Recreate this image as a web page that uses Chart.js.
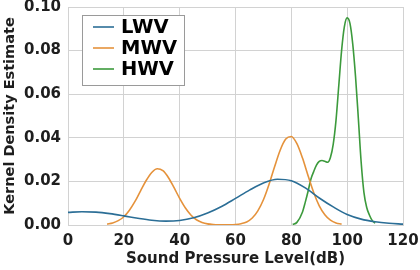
<!DOCTYPE html>
<html>
<head>
<meta charset="utf-8">
<script src="https://cdn.jsdelivr.net/npm/chart.js@4/dist/chart.umd.min.js"></script>
<style>
  html, body { margin: 0; padding: 0; background: #fff; }
  #wrap { width: 420px; height: 270px; }
</style>
</head>
<body>
<div id="wrap"><canvas id="kde"></canvas></div>
<script>
// series names
const seriesNames = ['LWV', 'MWV', 'HWV'];

// sound level (dB) sample positions and density estimates
const lwvX = [0, 5, 10, 15, 20, 25, 30, 35, 40, 45, 50, 55, 60, 65, 70, 75, 80, 85, 90, 95, 100, 105, 110, 115, 120];
const lwvY = [0.0058, 0.0061, 0.0059, 0.0052, 0.0042, 0.0031, 0.0022, 0.0018, 0.0021, 0.0033, 0.0055, 0.0085, 0.0122, 0.0160, 0.0193, 0.0210, 0.0203, 0.0170, 0.0124, 0.0083, 0.0048, 0.0027, 0.0015, 0.0008, 0.0004];

const mwvX = [14, 16, 18, 20, 22, 24, 26, 28, 30, 32, 34, 36, 38, 40, 42, 44, 46, 48, 50, 52, 54, 56, 58, 60, 62, 64, 66, 68, 70, 72, 74, 76, 78, 80, 82, 84, 86, 88, 90, 92, 94, 96, 98];
const mwvY = [0.0004, 0.0009, 0.0020, 0.0038, 0.0068, 0.0108, 0.0157, 0.0204, 0.0241, 0.0258, 0.0249, 0.0217, 0.0171, 0.0122, 0.0079, 0.0046, 0.0024, 0.0012, 0.0005, 0.0002, 0.0001, 0.0001, 0.0001, 0.0002, 0.0006, 0.0014, 0.0032, 0.0065, 0.0116, 0.0186, 0.0267, 0.0343, 0.0394, 0.0406, 0.0373, 0.0307, 0.0226, 0.0149, 0.0088, 0.0047, 0.0022, 0.0009, 0.0004];

const hwvX = [80.5, 82, 84, 85, 86, 87, 88, 89, 90, 91, 92, 93, 94, 95, 96, 97, 98, 99, 100, 101, 102, 103, 104, 105, 106, 107, 108, 109, 110];
const hwvY = [0.0002, 0.0012, 0.0060, 0.0105, 0.0155, 0.0210, 0.0245, 0.0275, 0.0292, 0.0296, 0.0292, 0.0288, 0.0310, 0.0370, 0.0480, 0.0640, 0.0800, 0.0910, 0.0950, 0.0925, 0.0830, 0.0680, 0.0490, 0.0290, 0.0150, 0.0080, 0.0045, 0.0020, 0.0008];

// axis ticks
const xTicks = [0, 20, 40, 60, 80, 100, 120];
const yTicks = [0, 0.02, 0.04, 0.06, 0.08, 0.10];

const colors = ['#2b6e96', '#e5923b', '#3c9a3c'];
const txt = '#1e1e1e';
const gridCol = '#d2d2d2';
const FONT = "'DejaVu Sans', sans-serif";

function pts(xs, ys) {
  return xs.map((x, i) => ({ x: x, y: ys[i] }));
}

const lineSets = [[lwvX, lwvY], [mwvX, mwvY], [hwvX, hwvY]];

// legend box drawn inside the plot, top left
const boxLegend = {
  id: 'boxLegend',
  afterDraw(chart) {
    const ctx = chart.ctx;
    const left = 82, top = 15, w = 102, h = 70;
    ctx.save();
    ctx.fillStyle = '#fff';
    ctx.fillRect(left, top, w, h);
    ctx.strokeStyle = '#9a9a9a';
    ctx.lineWidth = 1;
    ctx.strokeRect(left + 0.5, top + 0.5, w, h);
    ctx.font = 'bold 19.5px ' + FONT;
    ctx.textBaseline = 'middle';
    chart.data.datasets.forEach((ds, i) => {
      const y = top + 12 + i * 21;
      ctx.strokeStyle = ds.borderColor;
      ctx.lineWidth = 1.6;
      ctx.beginPath();
      ctx.moveTo(93, y);
      ctx.lineTo(114, y);
      ctx.stroke();
      ctx.fillStyle = '#000';
      ctx.fillText(ds.label, 121, y + 1);
    });
    ctx.restore();
  }
};

new Chart(document.getElementById('kde'), {
  type: 'line',
  data: {
    datasets: seriesNames.map((name, i) => ({
      label: name,
      data: pts(lineSets[i][0], lineSets[i][1]),
      borderColor: colors[i],
      borderWidth: 1.6,
      pointRadius: 0,
      fill: false,
      cubicInterpolationMode: 'monotone'
    }))
  },
  options: {
    responsive: true,
    maintainAspectRatio: false,
    animation: false,
    layout: { padding: { top: 7, right: 17, left: 0, bottom: 0 } },
    plugins: {
      legend: { display: false },
      tooltip: { enabled: false }
    },
    scales: {
      x: {
        type: 'linear',
        min: 0,
        max: 120,
        afterBuildTicks: s => { s.ticks = xTicks.map(v => ({ value: v })); },
        afterFit: s => { s.height = 45; s.paddingLeft = 0; s.paddingRight = 0; },
        grid: { color: gridCol, drawTicks: false },
        border: { color: gridCol },
        ticks: { color: txt, padding: 7, font: { family: FONT, size: 15, weight: 'bold' } },
        title: {
          display: true,
          text: 'Sound Pressure Level(dB)',
          color: txt,
          padding: { top: 0, bottom: 2 },
          font: { family: FONT, size: 15, weight: 'bold' }
        }
      },
      y: {
        min: 0,
        max: 0.1,
        afterBuildTicks: s => { s.ticks = yTicks.map(v => ({ value: v })); },
        afterFit: s => { s.width = 68; s.paddingTop = 0; s.paddingBottom = 0; },
        grid: { color: gridCol, drawTicks: false },
        border: { color: gridCol },
        ticks: {
          color: txt,
          padding: 7,
          font: { family: FONT, size: 15, weight: 'bold' },
          callback: v => v.toFixed(2)
        },
        title: {
          display: true,
          text: 'Kernel Density Estimate',
          color: txt,
          padding: { top: 2, bottom: 0 },
          font: { family: FONT, size: 14.5, weight: 'bold' }
        }
      }
    }
  },
  plugins: [boxLegend]
});
</script>
</body>
</html>
